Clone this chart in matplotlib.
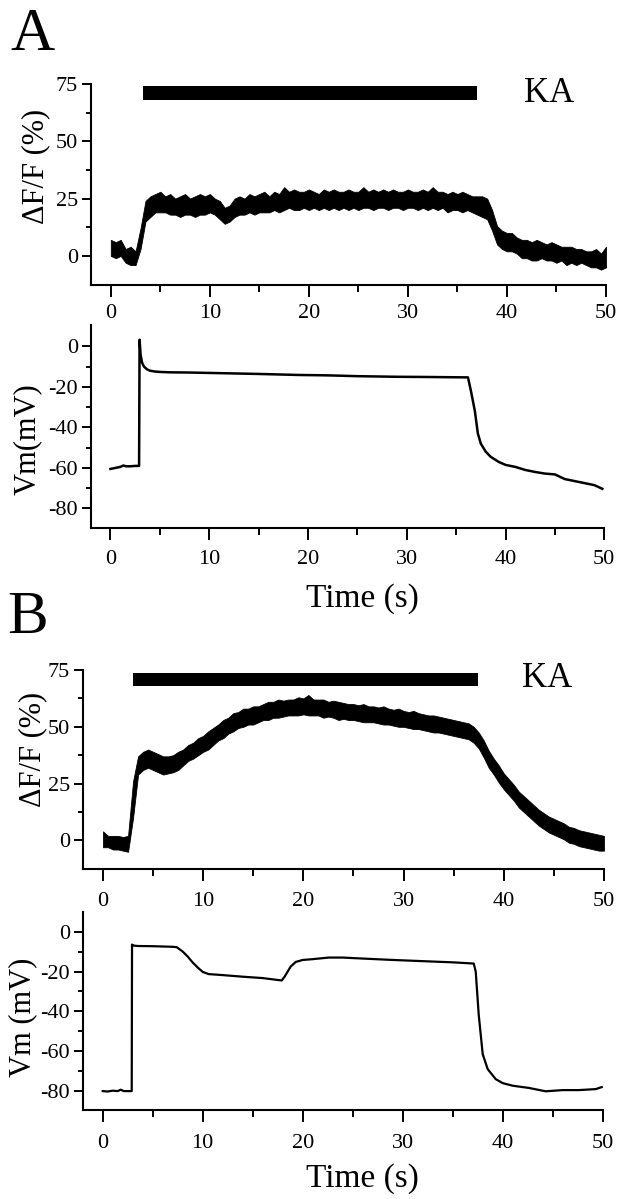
import numpy as np
import matplotlib
matplotlib.use("Agg")
import matplotlib.pyplot as plt
from matplotlib.ticker import FixedLocator

plt.rcParams['font.family'] = ['Liberation Serif', 'DejaVu Serif']
plt.rcParams['axes.unicode_minus'] = False

# ---- data ----
# dF/F traces: upper / lower edge of the noisy band, sampled every 0.5 s
t_dff = [i * 0.5 for i in range(101)]

dff_a_hi = [7, 6, 7, 3, 4, 2, 12, 24, 26, 27, 28, 26, 27, 25, 26, 27, 25, 26, 27, 26,
            27, 25, 24, 21, 22, 25, 26, 25, 27, 26, 27, 28, 26, 28, 27, 30, 28, 29, 28, 28,
            29, 28, 27, 29, 28, 29, 28, 28, 29, 28, 28, 30, 28, 29, 28, 29, 28, 29, 28, 28,
            29, 28, 28, 29, 28, 30, 28, 28, 27, 28, 27, 28, 27, 26, 26, 26, 25, 20, 13, 11,
            10, 10, 8, 7, 7, 6, 7, 6, 5, 6, 5, 4, 4, 4, 3, 3, 2, 2, 3, 1, 4]
dff_a_lo = [0, -1, 0, -3, -4, -4, 3, 15, 17, 19, 19, 19, 18, 18, 17, 18, 18, 17, 18, 18,
            19, 18, 16, 14, 15, 17, 18, 18, 19, 18, 19, 19, 19, 20, 19, 20, 21, 20, 20, 21,
            20, 21, 20, 21, 20, 21, 20, 21, 20, 21, 20, 21, 21, 20, 21, 21, 20, 21, 21, 20,
            21, 21, 20, 21, 20, 21, 20, 21, 19, 20, 20, 19, 20, 19, 18, 17, 16, 11, 5, 3,
            2, 2, 1, -1, -1, -2, -2, -1, -2, -2, -3, -2, -4, -3, -4, -3, -4, -5, -5, -6, -5]

dff_b_hi = [4, 2, 2, 2, 1.5, 2, 26, 37, 39, 40, 39, 38, 37, 37, 37.5, 39, 40, 42, 43, 45,
            46, 48, 49.5, 51, 53, 54, 56, 56.5, 58, 58, 59, 59, 60, 61, 61, 62, 61.5, 62, 62, 63,
            62.5, 64, 62, 62, 62, 61, 61.5, 61, 60.5, 60, 60, 59.5, 60, 59, 59, 58.5, 59, 58, 57.5, 58,
            57, 56.5, 57, 56, 55.5, 55, 55, 54.5, 54, 53.5, 53, 52.5, 52, 51.5, 50, 47.5, 44, 39.5, 36, 33,
            29.5, 27, 24.5, 21.5, 19.5, 17.5, 15.5, 13.5, 12, 10.5, 9.5, 8.5, 7.5, 6, 5.5, 4.5, 4, 3.5, 3, 2.5, 2]
dff_b_lo = [-3, -3, -4, -4, -4.5, -5, 10, 29, 31, 32, 31, 30, 29, 29.5, 30, 31, 33, 35, 36, 37.5,
            39, 40, 42, 44, 45, 47, 48, 49.5, 50, 51, 51, 52, 53, 53, 54, 54, 54.5, 55, 55, 55,
            55.5, 55, 55, 55, 54, 54.5, 54, 53, 53.5, 53, 53, 52.5, 52, 52, 52, 51.5, 51, 51, 50.5, 50,
            50, 49.5, 49, 49, 48.5, 48, 47.5, 47.5, 47, 46.5, 46, 45.5, 45, 44.5, 43, 40.5, 36.5, 32, 29, 25.5,
            22.5, 20, 17.5, 14.5, 12.5, 10.5, 8.5, 6.5, 5, 3.5, 2.5, 1.5, 0.5, -1, -1.5, -2.5, -3, -3.5, -4, -4.5, -4.5]

# membrane potential traces
t_vm_a = [0, 0.5, 1.0, 1.3, 1.6, 2.0, 2.5, 2.9, 2.95, 3.05, 3.2, 3.4, 3.7, 4.0, 4.5, 5.0,
          6.0, 8.0, 10.0, 12.0, 15.0, 19.0, 22.0, 25.0, 29.0, 32.0, 34.0, 36.2, 36.5, 36.9,
          37.2, 37.5, 38.0, 38.5, 39.3, 40.0, 41.0, 42.0, 43.0, 44.0, 45.0, 46.0, 47.0, 48.0,
          49.0, 49.8]
vm_a = [-60.5, -60, -59.5, -58.8, -59.2, -59.2, -59, -59, 3.3, -4, -8, -10, -11.3, -12,
        -12.4, -12.6, -12.8, -12.9, -13.1, -13.3, -13.6, -14.1, -14.3, -14.7, -15, -15.1,
        -15.2, -15.3, -22, -32, -43, -48, -52, -54.5, -57, -58.5, -59.5, -61, -62, -62.8,
        -63.2, -65.5, -66.5, -67.5, -68.5, -70.3]

t_vm_b = [0, 0.5, 1.0, 1.5, 1.8, 2.1, 2.5, 2.9, 2.93, 3.1, 3.5, 5.0, 7.0, 7.4, 8.0, 8.5,
          9.0, 9.5, 10.0, 10.6, 12.0, 14.0, 16.0, 17.9, 18.2, 18.8, 19.3, 20.0, 21.0, 22.6,
          24.0, 26.0, 29.0, 32.0, 35.0, 37.1, 37.3, 37.6, 38.0, 38.5, 39.3, 40.0, 41.0, 42.6,
          44.3, 46.0, 47.6, 49.3, 49.9]
vm_b = [-80, -80.2, -79.8, -80, -79.3, -80, -80, -80, -6.5, -7, -7.2, -7.3, -7.6, -7.8,
        -10, -12.5, -15.5, -18, -20.2, -21.3, -21.8, -22.6, -23.3, -24.5, -22.5, -17.5,
        -15.2, -14.2, -13.8, -13, -13, -13.5, -14.2, -14.8, -15.4, -16, -20, -41.7, -61.5,
        -69, -74, -76, -77.3, -78.4, -80.1, -79.5, -79.5, -79, -78]

# kainate application bar (start, end) in s
ka_a = [3.3, 37.0]
ka_b = [3.0, 37.4]

dff_ticks = [0, 25, 50, 75]
vm_ticks = [0, -20, -40, -60, -80]
time_ticks = [0, 10, 20, 30, 40, 50]

# ---- figure ----
fig = plt.figure(figsize=(6.22, 11.99), dpi=100)

ax_a1 = fig.add_axes([0.1463, 0.7623, 0.8280, 0.1676])
ax_a2 = fig.add_axes([0.1458, 0.5599, 0.8257, 0.1691])
ax_b1 = fig.add_axes([0.1334, 0.2750, 0.8376, 0.1662])
ax_b2 = fig.add_axes([0.1330, 0.0742, 0.8360, 0.1654])


def style(ax, yticks, yminor, ylim, xpad):
    ax.set_xlim(-2, 50)
    ax.set_ylim(*ylim)
    for s in ['top', 'right']:
        ax.spines[s].set_visible(False)
    for s in ['left', 'bottom']:
        ax.spines[s].set_linewidth(1.5)
    ax.set_xticks(time_ticks)
    ax.xaxis.set_minor_locator(FixedLocator([5, 15, 25, 35, 45]))
    ax.set_yticks(yticks)
    ax.yaxis.set_minor_locator(FixedLocator(yminor))
    ax.tick_params(axis='x', which='major', direction='out', length=8.4, width=1.4,
                   labelsize=16, pad=xpad)
    ax.tick_params(axis='x', which='minor', direction='out', length=4.8, width=1.4)
    ax.tick_params(axis='y', which='major', direction='out', length=6.5, width=1.4,
                   labelsize=16, pad=2.7)
    ax.tick_params(axis='y', which='minor', direction='out', length=3.6, width=1.4)


for ax, ka, hi, lo, xpad in [(ax_a1, ka_a, dff_a_hi, dff_a_lo, 5.5),
                             (ax_b1, ka_b, dff_b_hi, dff_b_lo, 8.0)]:
    ax.fill_between(t_dff, lo, hi, color='black', linewidth=0.6, edgecolor='black')
    style(ax, dff_ticks, [12.5, 37.5, 62.5], (-12.7, 75), xpad)

ax_a1.fill_between(ka_a, 68.0, 74.2, color='black', linewidth=0)
ax_b1.fill_between(ka_b, 68.0, 73.9, color='black', linewidth=0)
ax_a1.text(41.7, 67.2, 'KA', fontsize=25, ha='left', va='baseline')
ax_b1.text(41.8, 67.5, 'KA', fontsize=25, ha='left', va='baseline')

ax_a2.plot(t_vm_a, vm_a, color='black', linewidth=1.8)
style(ax_a2, vm_ticks, [-10, -30, -50, -70], (-89.5, 10.6), 8.0)
ax_b2.plot(t_vm_b, vm_b, color='black', linewidth=1.6)
style(ax_b2, vm_ticks, [-10, -30, -50, -70], (-89.5, 10.0), 8.5)

# axis labels
fig.text(0.058, 0.8616, '\u0394F/F (%)', rotation=90, fontsize=22, ha='center', va='center')
fig.text(0.044, 0.6334, 'Vm(mV)', rotation=90, fontsize=22, ha='center', va='center')
fig.text(0.053, 0.3753, '\u0394F/F (%)', rotation=90, fontsize=22, ha='center', va='center')
fig.text(0.037, 0.1518, 'Vm (mV)', rotation=90, fontsize=22, ha='center', va='center')
fig.text(0.583, 0.4937, 'Time (s)', fontsize=24, ha='center', va='baseline')
fig.text(0.582, 0.0103, 'Time (s)', fontsize=24, ha='center', va='baseline')

# panel letters
fig.text(0.016, 0.958, 'A', fontsize=44, ha='left', va='baseline')
fig.text(0.011, 0.472, 'B', fontsize=44, ha='left', va='baseline')

fig.savefig('out.png', dpi=100, facecolor='white')
